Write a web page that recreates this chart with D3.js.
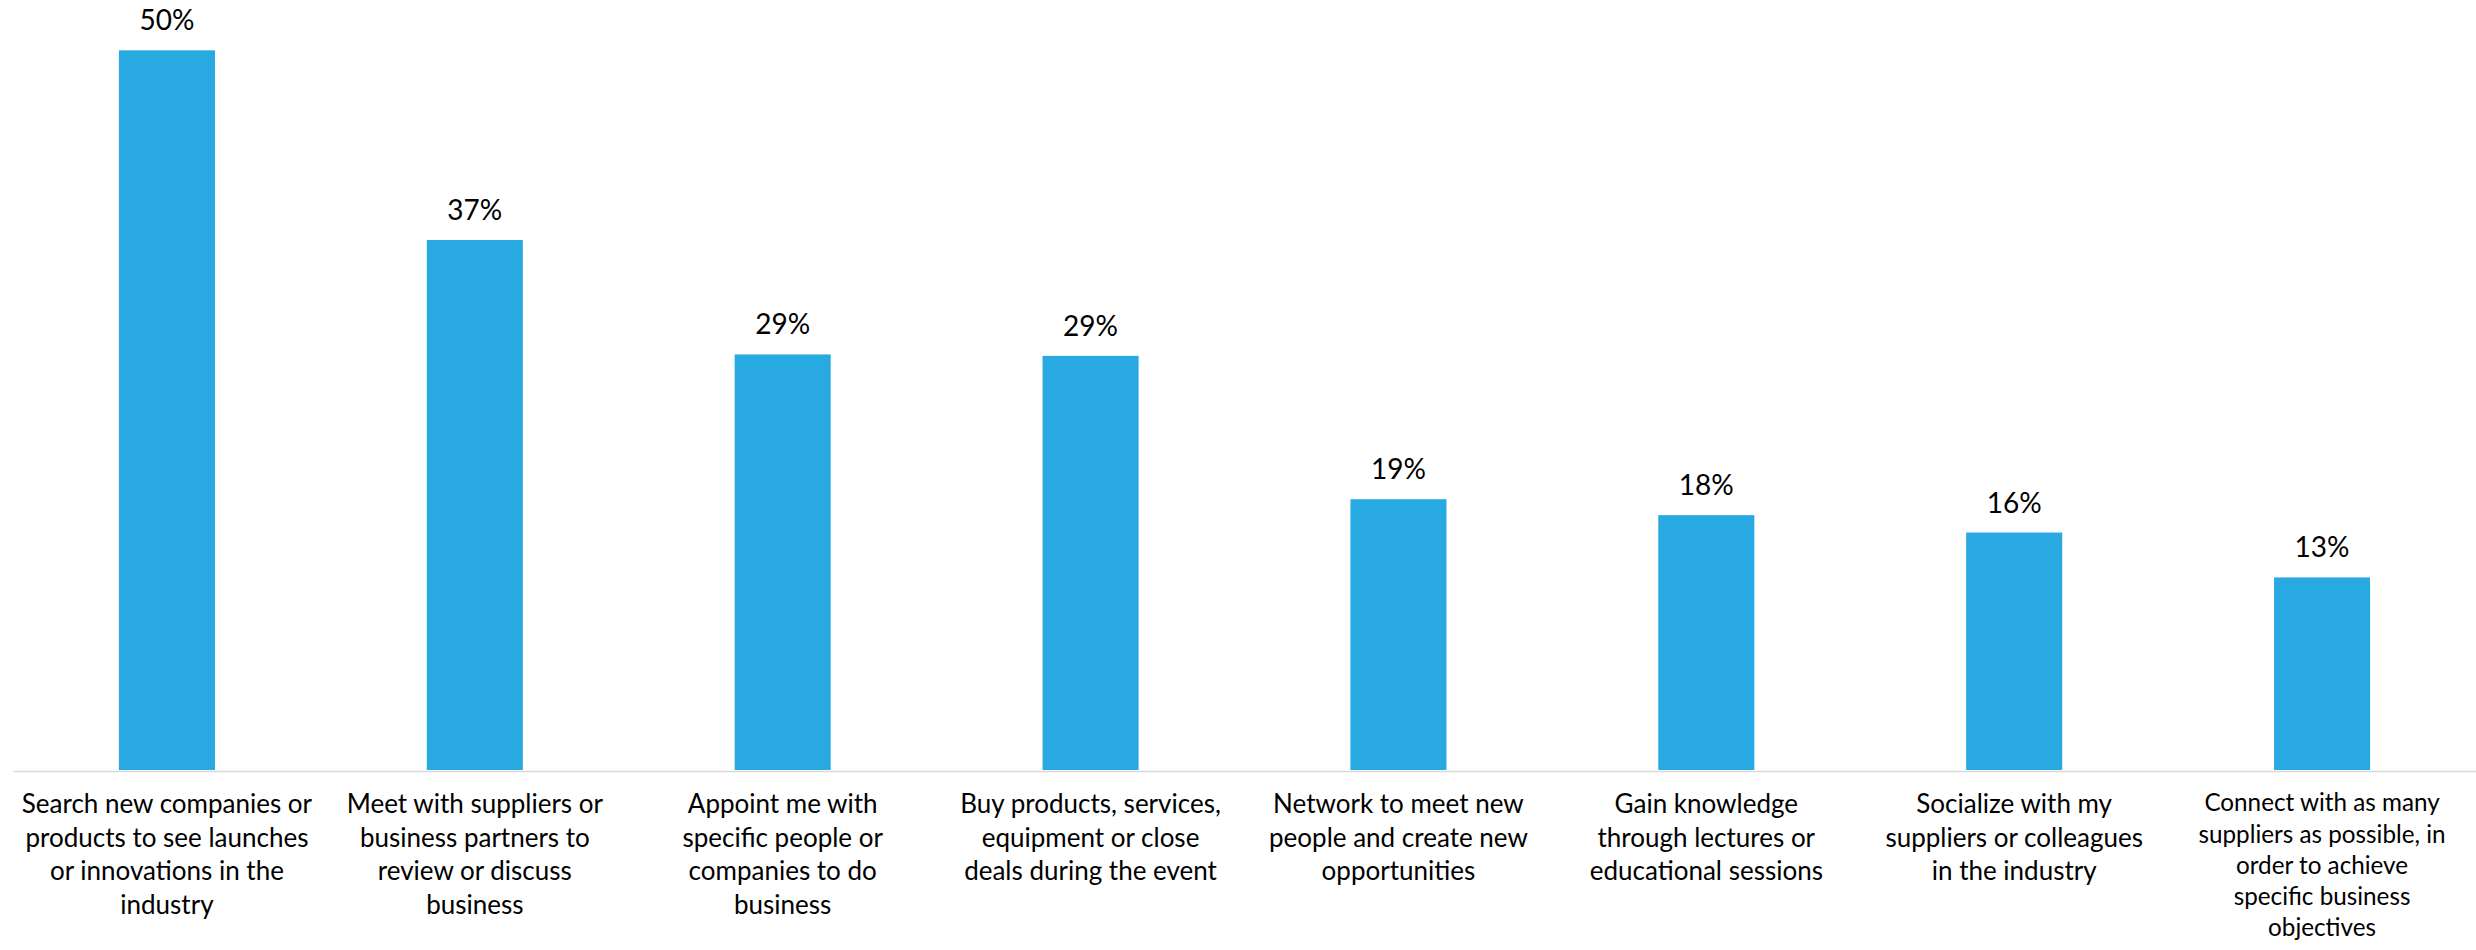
<!DOCTYPE html>
<html>
<head>
<meta charset="utf-8">
<script src="https://cdnjs.cloudflare.com/ajax/libs/d3/7.8.5/d3.min.js"></script>
<style>
  html, body { margin: 0; padding: 0; background: #fff; }
  svg { display: block; }
  text { font-family: Lato, "Open Sans", sans-serif; fill: #000; }
</style>
</head>
<body>
<svg id="chart"></svg>
<script>
const categories = [
  "Search new companies or\nproducts to see launches\nor innovations in the\nindustry",
  "Meet with suppliers or\nbusiness partners to\nreview or discuss\nbusiness",
  "Appoint me with\nspecific people or\ncompanies to do\nbusiness",
  "Buy products, services,\nequipment or close\ndeals during the event",
  "Network to meet new\npeople and create new\nopportunities",
  "Gain knowledge\nthrough lectures or\neducational sessions",
  "Socialize with my\nsuppliers or colleagues\nin the industry",
  "Connect with as many\nsuppliers as possible, in\norder to achieve\nspecific business\nobjectives"
]
const values = [49.7, 36.6, 28.7, 28.6, 18.7, 17.6, 16.4, 13.3]

const width = 2476
const height = 950
const baseY = 770
const left = 13
const labelTop = 813
const lineH = 33.5
const labelBottom = 938

const svg = d3.select('#chart')
  .attr('width', width)
  .attr('height', height)

const xScale = d3.scaleBand()
  .domain(categories)
  .range([left, width])
  .paddingInner(0.688)
  .paddingOuter(0.344)

const yScale = d3.scaleLinear()
  .domain([0, 50])
  .range([baseY, baseY - 50 * 14.48])

// bars
svg.selectAll('rect.bar')
  .data(values)
  .enter()
  .append('rect')
  .attr('class', 'bar')
  .attr('x', (d, i) => xScale(categories[i]))
  .attr('width', xScale.bandwidth())
  .attr('y', d => yScale(d))
  .attr('height', d => yScale(0) - yScale(d))
  .attr('fill', '#29a9e1')

// value labels
svg.selectAll('text.val')
  .data(values)
  .enter()
  .append('text')
  .attr('class', 'val')
  .attr('x', (d, i) => xScale(categories[i]) + xScale.bandwidth() / 2)
  .attr('y', d => yScale(d) - 20)
  .attr('text-anchor', 'middle')
  .style('font-size', '28px')
  .text(d => Math.round(d) + '%')

// x axis line
const xAxis = d3.axisBottom(xScale).tickSize(0).tickFormat('')
const gx = svg.append('g')
  .attr('transform', `translate(0, ${baseY + 1})`)
  .call(xAxis)
gx.select('.domain').attr('stroke', '#d9d9d9').attr('stroke-width', 1.5)

// category labels (shrink a label a bit when it has too many lines to fit)
svg.selectAll('text.cat')
  .data(categories)
  .enter()
  .append('text')
  .attr('class', 'cat')
  .attr('text-anchor', 'middle')
  .each(function (d) {
    const lines = d.split('\n')
    const cx = xScale(d) + xScale.bandwidth() / 2
    let lh = lineH
    if (lines.length > 1) lh = Math.min(lineH, (labelBottom - labelTop) / (lines.length - 1))
    const k = lh / lineH
    const top = labelTop - (1 - k) * 26
    d3.select(this).style('font-size', (26 * k) + 'px')
    lines.forEach((line, j) => {
      d3.select(this).append('tspan')
        .attr('x', cx)
        .attr('y', top + j * lh)
        .text(line)
    })
  })
</script>
</body>
</html>
